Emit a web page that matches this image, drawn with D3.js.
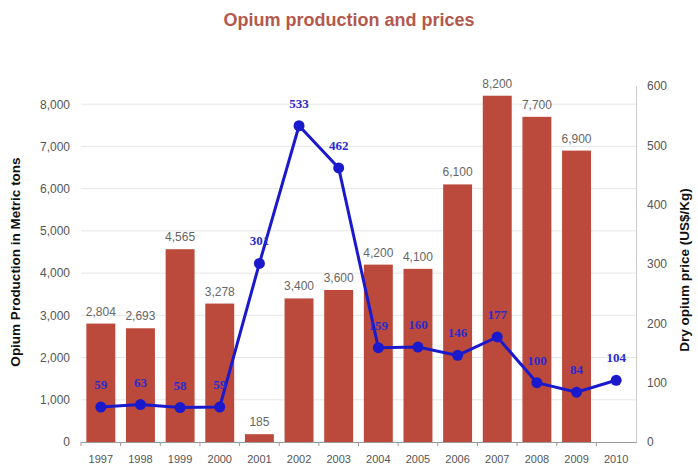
<!DOCTYPE html>
<html>
<head>
<meta charset="utf-8">
<script src="https://cdn.jsdelivr.net/npm/d3@7"></script>
<style>
  body { margin: 0; background: #fff; }
  svg { display: block; font-family: Arial, "Liberation Sans", sans-serif; }
</style>
</head>
<body>
<svg id="chart" width="698" height="469"></svg>
<script>
const years = ['1997','1998','1999','2000','2001','2002','2003','2004','2005','2006','2007','2008','2009','2010']
const production = [2804, 2693, 4565, 3278, 185, 3400, 3600, 4200, 4100, 6100, 8200, 7700, 6900, null]
const prices = [59, 63, 58, 59, 301, 533, 462, 159, 160, 146, 177, 100, 84, 104]
const leftTicks = [0, 1000, 2000, 3000, 4000, 5000, 6000, 7000, 8000]
const rightTicks = [0, 100, 200, 300, 400, 500, 600]

const margin = {top: 86, left: 81, right: 62, bottom: 27}
const width = 698, height = 469
const svg = d3.select('#chart')

const x = d3.scaleBand()
  .domain(years)
  .range([margin.left, width - margin.right])
  .paddingInner(0.27)
  .paddingOuter(0.135)

const yLeft = d3.scaleLinear()
  .domain([0, 8430])
  .range([height - margin.bottom, margin.top])

const yRight = d3.scaleLinear()
  .domain([0, 600])
  .range([height - margin.bottom, margin.top])

const fmt = d3.format(',')

// title
svg.append('text')
  .attr('x', 349).attr('y', 26)
  .attr('text-anchor', 'middle')
  .attr('font-size', 18).attr('font-weight', 'bold')
  .attr('fill', '#b4584c')
  .text('Opium production and prices')

// gridlines
svg.append('g')
  .selectAll('line')
  .data(leftTicks.slice(1))
  .join('line')
  .attr('x1', margin.left).attr('x2', width - margin.right)
  .attr('y1', d => yLeft(d)).attr('y2', d => yLeft(d))
  .attr('stroke', '#e6e6e6')

// left axis
const gl = svg.append('g')
  .attr('transform', `translate(${margin.left},0)`)
  .call(d3.axisLeft(yLeft).tickValues(leftTicks).tickFormat(fmt).tickSize(0))
gl.select('.domain').remove()
gl.selectAll('.tick text').attr('font-size', 12).attr('fill', '#555').attr('x', -11)

// right axis
const gr = svg.append('g')
  .attr('transform', `translate(${width - margin.right},0)`)
  .call(d3.axisRight(yRight).tickValues(rightTicks).tickSize(0))
gr.select('.domain').attr('stroke', '#ccc')
gr.selectAll('.tick text').attr('font-size', 12).attr('fill', '#555').attr('x', 11)

// bars
const barData = years.map((y, i) => ({year: y, v: production[i]})).filter(d => d.v != null)

svg.append('g')
  .selectAll('rect')
  .data(barData)
  .join('rect')
  .attr('x', d => x(d.year))
  .attr('width', x.bandwidth())
  .attr('y', d => yLeft(d.v))
  .attr('height', d => yLeft(0) - yLeft(d.v))
  .attr('fill', '#bc4a3c')

svg.append('g')
  .selectAll('text')
  .data(barData)
  .join('text')
  .attr('x', d => x(d.year) + x.bandwidth() / 2)
  .attr('y', d => yLeft(d.v) - 8)
  .attr('text-anchor', 'middle')
  .attr('font-size', 12).attr('fill', '#666')
  .text(d => fmt(d.v))

// x axis
const gx = svg.append('g')
  .attr('transform', `translate(0,${height - margin.bottom})`)
  .call(d3.axisBottom(x).tickSize(0).tickPadding(13))
gx.select('.domain').attr('stroke', '#999')
gx.selectAll('.tick text').attr('font-size', 11).attr('fill', '#555')
const half = (x.step() - x.bandwidth()) / 2
gx.selectAll('.sep')
  .data(years)
  .join('line')
  .attr('class', 'sep')
  .attr('x1', d => x(d) - half)
  .attr('x2', d => x(d) - half)
  .attr('y1', 0).attr('y2', 4)
  .attr('stroke', '#999')

// price line
const line = d3.line()
  .x((d, i) => x(years[i]) + x.bandwidth() / 2)
  .y(d => yRight(d))

svg.append('path')
  .datum(prices)
  .attr('d', line)
  .attr('fill', 'none')
  .attr('stroke', '#1a1acc')
  .attr('stroke-width', 3)

svg.append('g')
  .selectAll('circle')
  .data(prices)
  .join('circle')
  .attr('cx', (d, i) => x(years[i]) + x.bandwidth() / 2)
  .attr('cy', d => yRight(d))
  .attr('r', 5.5)
  .attr('fill', '#1a1acc')

svg.append('g')
  .selectAll('text')
  .data(prices)
  .join('text')
  .attr('x', (d, i) => x(years[i]) + x.bandwidth() / 2)
  .attr('y', d => yRight(d) - 18)
  .attr('text-anchor', 'middle')
  .attr('font-family', '"Liberation Serif", "DejaVu Serif", serif')
  .attr('font-size', 13).attr('font-weight', 'bold')
  .attr('fill', '#2a2ad0')
  .text(d => d)

// axis titles
svg.append('text')
  .attr('transform', `translate(20,${yLeft(0) - 180}) rotate(-90)`)
  .attr('text-anchor', 'middle')
  .attr('font-size', 13.5).attr('font-weight', 'bold').attr('fill', '#111')
  .text('Opium Production  in Metric tons')

svg.append('text')
  .attr('transform', `translate(689,${yLeft(0) - 172}) rotate(-90)`)
  .attr('text-anchor', 'middle')
  .attr('font-size', 13.5).attr('font-weight', 'bold').attr('fill', '#111')
  .text('Dry opium price (US$/Kg)')
</script>
</body>
</html>
